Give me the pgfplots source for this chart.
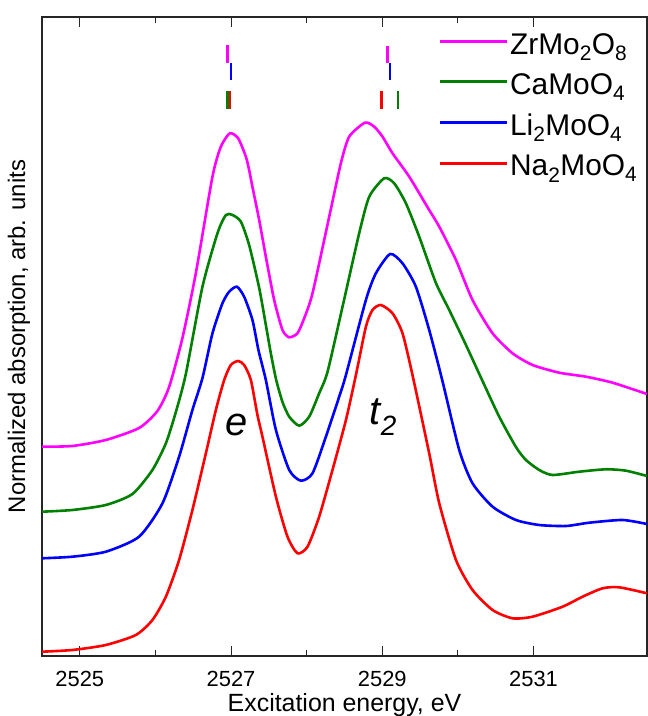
\documentclass[border=0pt]{standalone}
\usepackage{pgfplots}
\pgfplotsset{compat=1.18}
\usepackage{fontspec}
\setmainfont{Liberation Sans}
\usetikzlibrary{calc}
\definecolor{cmag}{RGB}{255,0,255}
\definecolor{cgreen}{RGB}{0,128,0}
\definecolor{cblue}{RGB}{0,0,255}
\definecolor{cred}{RGB}{255,0,0}
\begin{document}
\begin{tikzpicture}
\begin{axis}[
 name=ax, scale only axis, width=605bp, height=639bp,
 xmin=2524.5, xmax=2532.5, ymin=0, ymax=639,
 xtick={2525,2527,2529,2531}, minor x tick num=1,
 ytick=\empty,
 tick align=inside, major tick length=10bp, minor tick length=6bp,
 xticklabel pos=lower,
 /pgf/number format/assume math mode=true,
 /pgf/number format/1000 sep={},
 xticklabel style={font=\fontsize{22}{26}\selectfont, anchor=base, yshift=-30bp},
 xlabel={Excitation energy, eV},
 xlabel style={font=\fontsize{25}{30}\selectfont, at={(axis description cs:0.5,0)}, anchor=base, yshift=-55.5bp},
 ylabel={Normalized absorption, arb. units},
 ylabel style={font=\fontsize{24}{28}\selectfont, at={(axis description cs:-0.038,0.5)}, anchor=center},
 axis line style={black!85, line width=1.3bp},
 every tick/.style={black!85, line width=1.1bp},
 legend cell align=left,
 legend style={draw=none, fill=none, at={(axis description cs:0.655,0.978)}, anchor=north west,
   font=\fontsize{30}{32}\selectfont, inner sep=0pt, row sep=14bp},
 legend image code/.code={\draw[#1] (0bp,0.3em) -- (67bp,0.3em);},
 every axis plot/.append style={line width=2.6bp},
]
% ZrMo2O8
\addplot[cmag, smooth, tension=0.4] coordinates {
(2524.5,209.3) (2524.902,210) (2525.344,216) (2525.784,228) (2526.026,245) (2526.181,269)
(2526.357,318) (2526.534,382.7) (2526.754,479.3) (2526.865,509.3) (2526.984,522.7)
(2527.094,517.7) (2527.196,499.3) (2527.239,486) (2527.283,469) (2527.372,436) (2527.460,399.3)
(2527.570,356) (2527.680,326) (2527.769,318.7) (2527.878,322.7) (2527.967,337.7) (2528.077,362.7)
(2528.298,439.3) (2528.452,492.7) (2528.562,519.3) (2528.770,533.3) (2528.893,529.3) (2529.003,519.3)
(2529.135,502.7) (2529.356,479.3) (2529.620,446) (2529.753,429.3) (2529.974,396) (2530.193,356)
(2530.458,322.7) (2530.722,302.7) (2530.987,291) (2531.340,283.3) (2531.693,279.3) (2532.045,273.3)
(2532.5,262)};
\addlegendentry{ZrMo\textsubscript{2}O\textsubscript{8}}
% CaMoO4
\addplot[cgreen, smooth, tension=0.4] coordinates {
(2524.5,144.3) (2524.902,146) (2525.344,151) (2525.696,162) (2525.960,186) (2526.138,212.7)
(2526.270,244) (2526.402,282) (2526.622,369.3) (2526.820,422.7) (2526.931,441) (2527.019,441)
(2527.130,434.3) (2527.239,411) (2527.372,368) (2527.460,331) (2527.530,301) (2527.597,276)
(2527.680,254) (2527.769,239.3) (2527.901,230.3) (2528.033,239.3) (2528.165,262.7) (2528.275,284)
(2528.474,349.3) (2528.694,422.7) (2528.827,459.3) (2529.025,477.7) (2529.157,472.7) (2529.312,452.7)
(2529.488,419.3) (2529.709,373) (2529.885,346) (2530.106,311) (2530.325,275) (2530.546,239.3)
(2530.767,209) (2530.899,196) (2531.075,186) (2531.251,181) (2531.604,184.3) (2531.958,186.7)
(2532.222,185.3) (2532.5,180)};
\addlegendentry{CaMoO\textsubscript{4}}
% Li2MoO4
\addplot[cblue, smooth, tension=0.4] coordinates {
(2524.5,97.7) (2524.902,99.3) (2525.344,104.3) (2525.784,119.3) (2526.093,152.7) (2526.313,199.3)
(2526.489,246) (2526.622,278) (2526.754,322.7) (2526.886,352.7) (2526.975,364.3) (2527.077,369.3)
(2527.173,359.3) (2527.283,336) (2527.362,306) (2527.460,276) (2527.593,226) (2527.769,186)
(2527.923,175.3) (2528.077,182.7) (2528.254,219.3) (2528.430,259.3) (2528.519,281) (2528.783,356)
(2528.915,382.7) (2529.104,402) (2529.267,392.7) (2529.444,369.3) (2529.620,326) (2529.792,276)
(2530.017,206) (2530.193,172.7) (2530.458,149.3) (2530.767,136) (2531.075,131) (2531.429,130)
(2531.737,133.3) (2532.177,136) (2532.5,132)};
\addlegendentry{Li\textsubscript{2}MoO\textsubscript{4}}
% Na2MoO4
\addplot[cred, smooth, tension=0.4] coordinates {
(2524.5,4.3) (2524.902,6) (2525.344,11) (2525.741,21) (2525.960,36) (2526.138,59.3)
(2526.313,96) (2526.489,146) (2526.667,202.7) (2526.799,246) (2526.909,276) (2526.997,291)
(2527.094,295) (2527.173,291) (2527.262,276) (2527.349,241) (2527.415,219.3) (2527.593,159.3)
(2527.746,119.3) (2527.878,102.7) (2528.011,109.3) (2528.165,139.3) (2528.341,186) (2528.519,236)
(2528.651,281) (2528.783,329.3) (2528.870,346) (2528.981,351) (2529.135,342.7) (2529.267,322.7)
(2529.399,281) (2529.620,202.7) (2529.753,152.7) (2529.974,96) (2530.193,66) (2530.458,46)
(2530.722,37.7) (2530.987,39.3) (2531.384,49.3) (2531.648,59.3) (2531.913,67.7) (2532.134,68.7)
(2532.5,62.7)};
\addlegendentry{Na\textsubscript{2}MoO\textsubscript{4}}
% peak position bars
\addplot[cmag, line width=2.3bp, forget plot] coordinates {(2526.952,611) (2526.952,593.3)};
\addplot[cmag, line width=2.3bp, forget plot] coordinates {(2529.069,610.3) (2529.069,593.3)};
\addplot[cblue, line width=2.3bp, forget plot] coordinates {(2526.997,593.3) (2526.997,576)};
\addplot[cblue, line width=2.3bp, forget plot] coordinates {(2529.101,593.3) (2529.101,576)};
\addplot[cgreen, line width=2.3bp, forget plot] coordinates {(2526.952,565) (2526.952,547)};
\addplot[cgreen, line width=2.3bp, forget plot] coordinates {(2529.206,565) (2529.206,547)};
\addplot[cred, line width=2.3bp, forget plot] coordinates {(2526.988,565) (2526.988,547)};
\addplot[cred, line width=2.3bp, forget plot] coordinates {(2528.989,565) (2528.989,547)};
\node[font=\fontsize{40}{44}\selectfont\itshape] at (axis cs:2527.07,231) {e};
\node[font=\fontsize{40}{44}\selectfont\itshape] at (axis cs:2529.012,239) {t\textsubscript{2}};
\end{axis}
\pgfresetboundingbox
\path ($(ax.south west)+(-42bp,-60bp)$) rectangle ($(ax.north east)+(1bp,17bp)$);
\end{tikzpicture}
\end{document}
